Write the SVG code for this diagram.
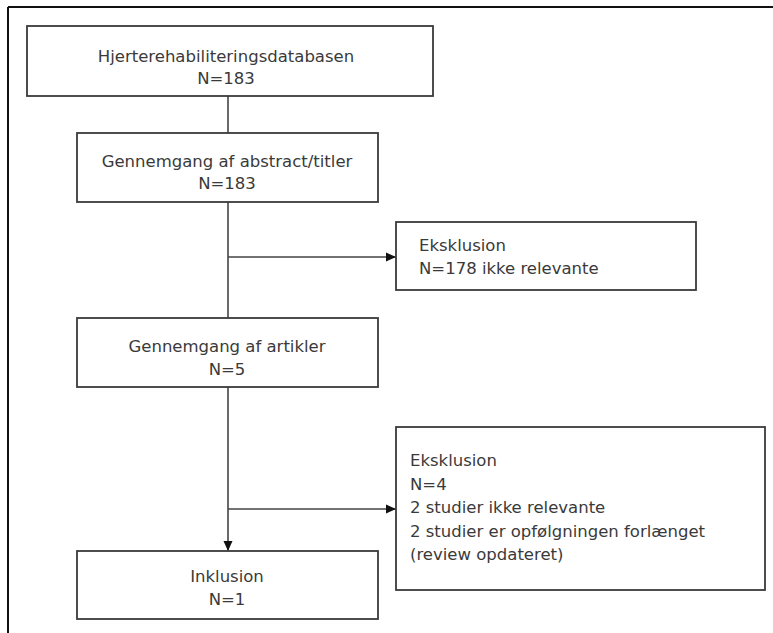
<svg xmlns="http://www.w3.org/2000/svg" width="773" height="633" viewBox="0 0 773 633">
<defs>
<marker id="arr" viewBox="0 0 10 10" refX="10" refY="5" markerWidth="10" markerHeight="10" markerUnits="userSpaceOnUse" orient="auto">
<path d="M0,0.5 L10,5 L0,9.5 Z" fill="#111"/>
</marker>
<style>
.box{fill:#fff;stroke:#3a3a3a;stroke-width:1.8}
.t{font-family:"DejaVu Sans","Open Sans",sans-serif;font-size:16.5px;fill:#3a3a3a}
.c{text-anchor:middle}
.ln{stroke:#444;stroke-width:1.6;fill:none}
</style>
</defs>
<rect width="773" height="633" fill="#fff"/>
<g id="frame">
<line x1="8" y1="7" x2="773" y2="7" stroke="#111" stroke-width="2"/>
<line x1="8" y1="7" x2="8" y2="633" stroke="#111" stroke-width="2"/>
</g>
<g id="connectors">
<line class="ln" x1="228" y1="96" x2="228" y2="133"/>
<line class="ln" x1="228" y1="202" x2="228" y2="318"/>
<line class="ln" x1="228" y1="257" x2="396" y2="257" marker-end="url(#arr)"/>
<line class="ln" x1="228" y1="387" x2="228" y2="551" marker-end="url(#arr)"/>
<line class="ln" x1="228" y1="509" x2="396" y2="509" marker-end="url(#arr)"/>
</g>
<g id="n1">
<rect class="box" x="27" y="26" width="406" height="70"/>
<text class="t c" x="226" y="62">Hjerterehabiliteringsdatabasen</text>
<text class="t c" x="226" y="84">N=183</text>
</g>
<g id="n2">
<rect class="box" x="77" y="133" width="301" height="69"/>
<text class="t c" x="227" y="167">Gennemgang af abstract/titler</text>
<text class="t c" x="227" y="189">N=183</text>
</g>
<g id="n3">
<rect class="box" x="396" y="222" width="300" height="68"/>
<text class="t" x="419" y="251">Eksklusion</text>
<text class="t" x="419" y="274">N=178 ikke relevante</text>
</g>
<g id="n4">
<rect class="box" x="77" y="318" width="301" height="69"/>
<text class="t c" x="227" y="352">Gennemgang af artikler</text>
<text class="t c" x="227" y="375">N=5</text>
</g>
<g id="n5">
<rect class="box" x="396" y="427" width="369" height="163"/>
<text class="t" x="410" y="466">Eksklusion</text>
<text class="t" x="410" y="490">N=4</text>
<text class="t" x="410" y="513">2 studier ikke relevante</text>
<text class="t" x="410" y="537">2 studier er opfølgningen forlænget</text>
<text class="t" x="410" y="560">(review opdateret)</text>
</g>
<g id="n6">
<rect class="box" x="77" y="551" width="301" height="68"/>
<text class="t c" x="227" y="582">Inklusion</text>
<text class="t c" x="227" y="605">N=1</text>
</g>
</svg>
